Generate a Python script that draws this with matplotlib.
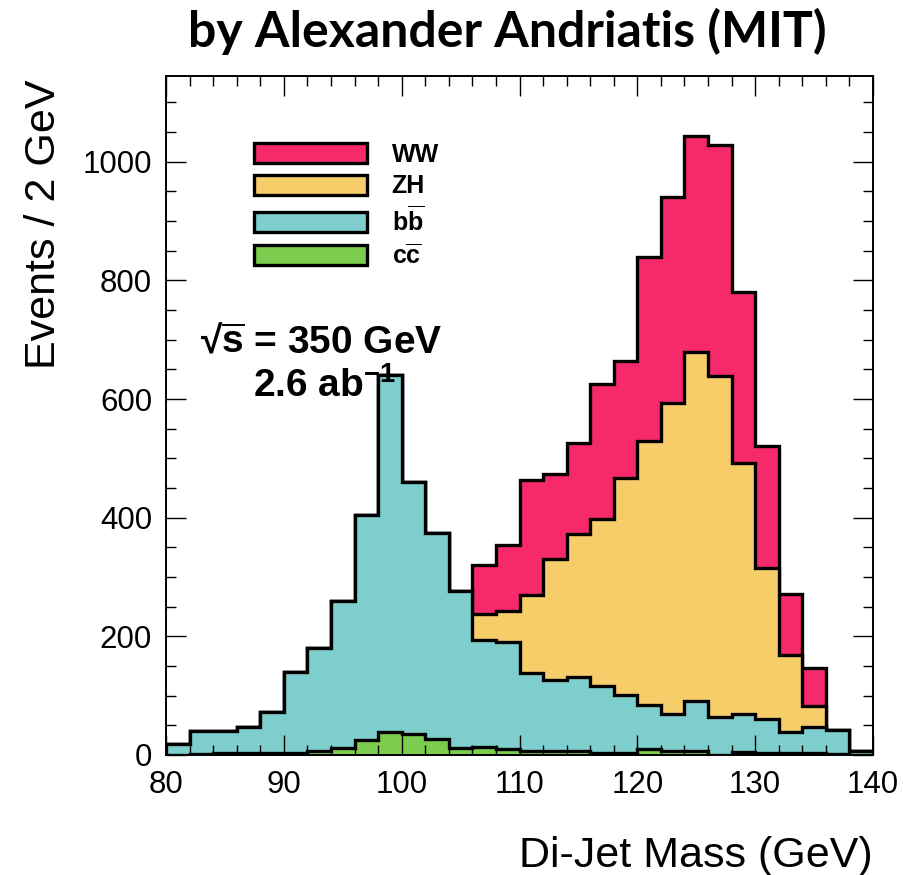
import numpy as np
import matplotlib
matplotlib.use('Agg')
import matplotlib.pyplot as plt
from matplotlib.patches import Patch
from matplotlib.ticker import MultipleLocator

plt.rcParams['font.family'] = ['Liberation Sans', 'DejaVu Sans']
plt.rcParams['mathtext.fontset'] = 'custom'
plt.rcParams['mathtext.rm'] = 'Liberation Sans:bold'
plt.rcParams['mathtext.it'] = 'Liberation Sans:bold'
plt.rcParams['mathtext.bf'] = 'Liberation Sans:bold'

# di-jet mass bins, 2 GeV wide
edges = np.arange(80, 142, 2)

# events per bin for each process
cc = [0, 1, 3, 3, 3, 3, 6, 11, 25, 38, 35, 27, 12, 14, 10,
      7, 7, 6, 3, 3, 10, 7, 6, 0, 5, 4, 3, 3, 2, 0]
bb = [19, 40, 38, 44, 70, 137, 174, 249, 379, 602, 426, 348, 265, 180, 180,
      132, 120, 125, 114, 98, 74, 62, 85, 64, 64, 57, 36, 45, 40, 6]
zh = [0] * 13 + [43, 53, 130, 204, 241, 280, 366, 445, 525, 588, 574, 424, 254, 130, 35] + [0, 0]
ww = [0] * 13 + [83, 111, 194, 143, 154, 228, 197, 310, 346, 364, 391, 287, 205, 102, 64] + [0, 0]

labels = ['WW', 'ZH', r'$b\overline{b}$', r'$c\overline{c}$']
colors = ['#F62A6B', '#F7CD69', '#7ECECE', '#7CCD4D']

# stack like ROOT's THStack: cumulative sums, drawn from the top down
stack = np.cumsum([cc, bb, zh, ww], axis=0)[::-1]

fig = plt.figure(figsize=(9.04, 8.75), dpi=100)
ax = fig.add_axes([166 / 904, 1 - 755 / 875, 707 / 904, 679.3 / 875])

for vals, col in zip(stack, colors):
    ax.stairs(vals, edges, baseline=0, fill=True, facecolor=col,
              edgecolor='black', linewidth=2.4)

ax.set_xlim(80, 140)
ax.set_ylim(0, 1145)
ax.xaxis.set_major_locator(MultipleLocator(10))
ax.xaxis.set_minor_locator(MultipleLocator(2))
ax.yaxis.set_major_locator(MultipleLocator(200))
ax.yaxis.set_minor_locator(MultipleLocator(50))
ax.set_axisbelow(False)
ax.tick_params(which='both', direction='in', top=True, right=True, width=1.0)
ax.tick_params(which='major', length=14.5, labelsize=22.5)
ax.tick_params(axis='x', which='major', pad=11)
ax.tick_params(axis='y', which='major', pad=10)
ax.tick_params(which='minor', length=7.2)
for sp in ax.spines.values():
    sp.set_linewidth(1.4)

ax.set_xlabel('Di-Jet Mass (GeV)', fontsize=31, loc='right')
ax.xaxis.set_label_coords(1.0, -0.1195)
ax.set_ylabel('Events / 2 GeV', fontsize=31, loc='top')
ax.yaxis.set_label_coords(-0.144, 0.994)

handles = [Patch(facecolor=c, edgecolor='black', linewidth=2.4) for c in colors]
ax.legend(handles, labels, loc='upper left', bbox_to_anchor=(0.1245, 0.901),
          frameon=False, borderpad=0, borderaxespad=0, handlelength=4.5,
          handleheight=0.85, handletextpad=1.0, labelspacing=0.3,
          prop={'size': 18, 'weight': 'bold'})

ax.text(82.9, 678, '\u221a' + r'$\overline{s}$ = 350 GeV', fontsize=28,
        fontweight='bold', va='baseline', ha='left')
ax.text(87.4, 604, r'2.6 ab$^{-1}$', fontsize=28, fontweight='bold',
        va='baseline', ha='left')

fig.text(507 / 904, 1 - 47 / 875, 'by Alexander Andriatis (MIT)', family='Lato',
         fontweight='bold', fontsize=36, ha='center', va='baseline')

fig.savefig('out.png', dpi=100)
